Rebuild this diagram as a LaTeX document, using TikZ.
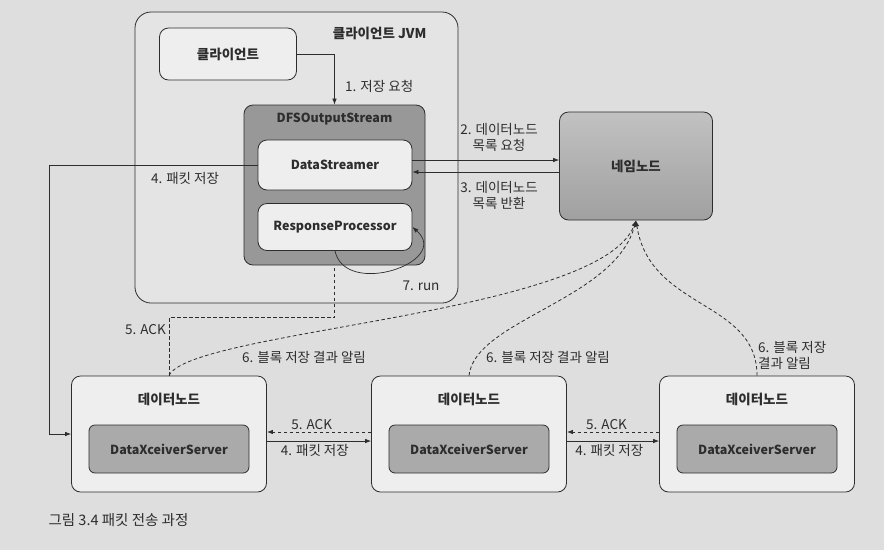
\documentclass[tikz,border=0pt]{standalone}
\usepackage{fontspec}
\setmainfont{Noto Sans CJK KR}
\usepackage{xcolor}
\usepackage{tikz}
\usetikzlibrary{calc}
\usetikzlibrary{positioning}
\usetikzlibrary{arrows.meta}

\definecolor{paper}{RGB}{222,222,222}
\definecolor{jvmfill}{RGB}{228,228,228}
\definecolor{light}{RGB}{238,238,238}
\definecolor{dark}{RGB}{152,152,152}
\definecolor{namefill}{RGB}{178,178,178}
\definecolor{xfill}{RGB}{170,170,170}
\definecolor{ink}{RGB}{45,45,45}

\begin{document}
\begin{tikzpicture}[x=1pt,y=-1pt,
	every node/.style={text=ink,font=\fontsize{13.5}{16}\selectfont},
	box/.style={draw=ink,line width=0.8pt,rounded corners=9pt,inner sep=0pt},
	boxtitle/.style={font=\bfseries\fontsize{12.5}{14}\selectfont},
	kotitle/.style={font=\bfseries\fontsize{13.5}{15}\selectfont},
	lbl/.style={inner sep=1pt},
	conn/.style={draw=ink,line width=0.7pt,-{Latex[length=6pt,width=4.5pt]}},
	ackline/.style={draw=ink,line width=0.8pt,dash pattern=on 3.5pt off 2.5pt},
	ack/.style={ackline,-{Latex[length=6pt,width=4.5pt]}}]

	\fill[paper] (0,0) rectangle (884,550);
	\useasboundingbox (0,0) rectangle (884,550);

	\node[box,fill=jvmfill,rounded corners=16pt,minimum width=323pt,minimum height=291pt] (jvm) at (296.5,157.5) {};
	\node[kotitle,anchor=east] (jvmtitle) at (430,33) {클라이언트 JVM};

	\node[box,fill=light,minimum width=137pt,minimum height=52pt,kotitle] (client) at (228,54) {클라이언트};

	\node[box,fill=dark,minimum width=181pt,minimum height=160pt] (dfs) at (334.5,185) {};
	\node[boxtitle,below=5pt of dfs.north] (dfstitle) {DFSOutputStream};
	\node[box,fill=light,minimum width=154pt,minimum height=50pt,boxtitle] (streamer) at (335,165) {DataStreamer};
	\node[box,fill=light,minimum width=154pt,minimum height=47pt,boxtitle] (resp) at (335,227) {ResponseProcessor};

	\node[box,top color=namefill!80!white,bottom color=namefill!90!black,minimum width=153pt,minimum height=108pt,kotitle] (name) at (636,166) {네임노드};

	\foreach \n/\x in {1/169,2/469,3/757}{
		\node[box,fill=light,minimum width=195pt,minimum height=116pt] (dn\n) at (\x,434) {};
		\node[kotitle,below=14pt of dn\n.north] (dntitle\n) {데이터노드};
		\node[box,fill=xfill,rounded corners=6pt,minimum width=160pt,minimum height=48pt,boxtitle] (dx\n) at (\x,449) {DataXceiverServer};
	}

	\draw[conn] (client.east) -| (dfs.north);
	\node[lbl,anchor=west] at (344,86) {1. 저장 요청};

	\coordinate (s2) at ($(streamer.east)+(0,-5)$);
	\coordinate (s3) at ($(streamer.east)+(0,7)$);
	\draw[conn] (s2) -- (s2 -| name.west);
	\draw[conn] (s3 -| name.west) -- (s3);
	\node[lbl,align=center] at (499,137) {2. 데이터노드\\목록 요청};
	\node[lbl,align=center] at (499,195) {3. 데이터노드\\목록 반환};

	\draw[conn] (streamer.west) -- ++(-208,0) |- (dn1.west);
	\node[lbl] at (185,178) {4. 패킷 저장};

	\draw[conn] (resp.south) .. controls (345,298) and (452,262) .. (resp.east);
	\node[lbl] at (421,286) {7. run};

	\draw[ackline] (dn1.north) -- ++(0,-58) -| (dfs.south);
	\node[lbl,anchor=east] at (167,330) {5. ACK};

	\draw[ack] (dn1.north) .. controls (190,330) and (600,315) .. (name.south);
	\draw[ack] (dn2.north) .. controls (475,320) and (615,300) .. (name.south);
	\draw[ack] (dn3.north) .. controls (757,300) and (650,310) .. (name.south);
	\node[lbl] at (304,357) {6. 블록 저장 결과 알림};
	\node[lbl] at (548,357) {6. 블록 저장 결과 알림};
	\node[lbl,anchor=west,align=left] at (757,355) {6. 블록 저장\\결과 알림};

	\foreach \a/\b in {dn1/dn2,dn2/dn3}{
		\draw[ack] ($(\b.west)+(0,-2)$) -- node[lbl,above=1pt,pos=0.57] {5. ACK} ($(\a.east)+(0,-2)$);
		\draw[conn] ($(\a.east)+(0,7)$) -- node[lbl,below=2pt,pos=0.46] {4. 패킷 저장} ($(\b.west)+(0,7)$);
	}

	\node[anchor=west,font=\fontsize{14.5}{16}\selectfont] (caption) at (45,520) {그림 3.4 패킷 전송 과정};
\end{tikzpicture}
\end{document}
